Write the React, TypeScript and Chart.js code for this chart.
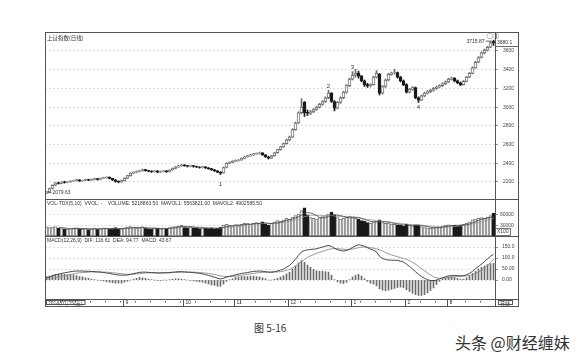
import React, { useEffect, useRef } from 'react';
import { Chart, registerables } from 'chart.js';

Chart.register(...registerables);

const FONT = '"Liberation Sans", Arial, sans-serif';
const CJK = '"Noto Sans CJK SC", sans-serif';

// [open, high, low, close]
const candles: number[][] = [
  [2080, 2100, 2075, 2093], [2093, 2135, 2090, 2130], [2130, 2170, 2125, 2165], [2165, 2195, 2160, 2190], [2192, 2198, 2178, 2185],
  [2185, 2205, 2180, 2200], [2202, 2208, 2188, 2195], [2195, 2206, 2190, 2200], [2200, 2215, 2196, 2210], [2210, 2220, 2204, 2215],
  [2215, 2228, 2210, 2222], [2224, 2226, 2205, 2212], [2212, 2222, 2206, 2218], [2218, 2230, 2214, 2225], [2226, 2229, 2214, 2220],
  [2220, 2233, 2216, 2228], [2228, 2240, 2222, 2235], [2236, 2238, 2220, 2226], [2226, 2244, 2222, 2240], [2240, 2252, 2236, 2246],
  [2246, 2256, 2240, 2250], [2252, 2254, 2232, 2238], [2238, 2240, 2216, 2222], [2222, 2226, 2198, 2205], [2206, 2212, 2190, 2200],
  [2200, 2220, 2196, 2215], [2215, 2245, 2212, 2240], [2240, 2272, 2236, 2268], [2268, 2300, 2262, 2295], [2295, 2310, 2288, 2305],
  [2305, 2318, 2298, 2312], [2312, 2326, 2306, 2320], [2320, 2338, 2315, 2330], [2332, 2336, 2316, 2322], [2322, 2326, 2308, 2315],
  [2316, 2320, 2302, 2310], [2310, 2325, 2306, 2318], [2318, 2320, 2298, 2305], [2305, 2318, 2300, 2312], [2312, 2326, 2308, 2320],
  [2320, 2323, 2302, 2310], [2310, 2333, 2306, 2328], [2328, 2350, 2324, 2345], [2345, 2366, 2340, 2360], [2360, 2378, 2355, 2372],
  [2372, 2388, 2366, 2380], [2382, 2386, 2368, 2374], [2374, 2378, 2360, 2368], [2368, 2380, 2362, 2375], [2376, 2378, 2358, 2365],
  [2365, 2370, 2352, 2360], [2360, 2364, 2348, 2355], [2355, 2368, 2350, 2362], [2362, 2365, 2344, 2350], [2350, 2354, 2336, 2342],
  [2342, 2346, 2324, 2330], [2330, 2334, 2312, 2318], [2318, 2322, 2298, 2305], [2305, 2310, 2280, 2295], [2298, 2360, 2294, 2355],
  [2355, 2405, 2350, 2400], [2400, 2416, 2394, 2410], [2410, 2428, 2404, 2422], [2422, 2436, 2416, 2430], [2430, 2440, 2422, 2435],
  [2435, 2458, 2430, 2452], [2452, 2476, 2448, 2470], [2470, 2486, 2464, 2480], [2480, 2496, 2474, 2490], [2490, 2506, 2484, 2500],
  [2500, 2512, 2494, 2505], [2505, 2520, 2498, 2510], [2512, 2515, 2484, 2490], [2490, 2494, 2462, 2470], [2470, 2474, 2445, 2455],
  [2455, 2485, 2450, 2480], [2480, 2518, 2476, 2512], [2512, 2550, 2508, 2545], [2545, 2582, 2540, 2575], [2575, 2616, 2570, 2610],
  [2610, 2658, 2604, 2650], [2650, 2690, 2640, 2680], [2680, 2770, 2676, 2760], [2760, 2840, 2752, 2830], [2830, 2950, 2825, 2940],
  [2940, 3090, 2930, 3000], [3050, 3060, 2900, 2940], [2945, 2970, 2910, 2935], [2935, 2965, 2920, 2950], [2950, 2985, 2940, 2975],
  [2975, 3010, 2965, 3000], [3000, 3040, 2990, 3030], [3030, 3070, 3020, 3060], [3060, 3110, 3050, 3100], [3100, 3180, 3090, 3150],
  [3150, 3155, 3050, 3060], [3060, 3070, 2960, 2990], [2990, 3060, 2980, 3050], [3050, 3110, 3040, 3100], [3100, 3170, 3090, 3160],
  [3160, 3240, 3150, 3230], [3230, 3310, 3220, 3300], [3300, 3380, 3290, 3340], [3340, 3405, 3320, 3360], [3365, 3385, 3310, 3330],
  [3330, 3340, 3270, 3280], [3280, 3290, 3220, 3240], [3240, 3255, 3210, 3230], [3230, 3250, 3215, 3240], [3240, 3330, 3235, 3320],
  [3320, 3390, 3310, 3360], [3350, 3360, 3130, 3150], [3150, 3230, 3140, 3220], [3220, 3300, 3210, 3290], [3290, 3360, 3280, 3350],
  [3350, 3375, 3340, 3365], [3365, 3406, 3355, 3370], [3370, 3375, 3310, 3320], [3320, 3330, 3270, 3280], [3280, 3290, 3230, 3240],
  [3240, 3250, 3150, 3160], [3160, 3200, 3150, 3190], [3190, 3220, 3180, 3210], [3210, 3215, 3090, 3100], [3100, 3110, 3050, 3075],
  [3075, 3130, 3070, 3120], [3120, 3160, 3110, 3150], [3150, 3175, 3140, 3165], [3165, 3190, 3155, 3180], [3180, 3210, 3170, 3200],
  [3200, 3225, 3190, 3215], [3215, 3240, 3205, 3230], [3230, 3260, 3220, 3250], [3250, 3280, 3240, 3270], [3270, 3310, 3262, 3300],
  [3300, 3320, 3290, 3310], [3310, 3315, 3270, 3280], [3280, 3290, 3250, 3260], [3260, 3268, 3230, 3240], [3240, 3285, 3235, 3275],
  [3275, 3330, 3270, 3320], [3320, 3370, 3315, 3360], [3360, 3430, 3355, 3420], [3420, 3490, 3415, 3480], [3480, 3540, 3475, 3530],
  [3530, 3590, 3525, 3580], [3580, 3620, 3570, 3610], [3610, 3650, 3600, 3640], [3640, 3700, 3635, 3690], [3700, 3716, 3660, 3690],
];

const volume: number[] = [
  26000, 24000, 25000, 27000, 22000, 21000, 20000, 19000, 21000, 22000,
  23000, 20000, 19000, 21000, 18000, 20000, 22000, 19000, 21000, 23000,
  22000, 20000, 21000, 24000, 19000, 20000, 23000, 25000, 27000, 24000,
  22000, 23000, 26000, 22000, 20000, 19000, 21000, 22000, 20000, 22000,
  21000, 24000, 26000, 27000, 28000, 30000, 26000, 24000, 25000, 23000,
  22000, 21000, 23000, 22000, 21000, 23000, 20000, 22000, 25000, 30000,
  33000, 31000, 29000, 32000, 30000, 34000, 36000, 35000, 33000, 36000,
  38000, 37000, 40000, 34000, 31000, 36000, 40000, 44000, 42000, 46000,
  50000, 48000, 54000, 58000, 62000, 72000, 80000, 60000, 52000, 50000,
  48000, 52000, 55000, 58000, 62000, 68000, 60000, 52000, 48000, 50000,
  54000, 56000, 52000, 50000, 47000, 44000, 42000, 38000, 36000, 40000,
  42000, 46000, 38000, 36000, 37000, 34000, 33000, 32000, 30000, 29000,
  33000, 30000, 28000, 32000, 30000, 26000, 24000, 23000, 22000, 23000,
  24000, 26000, 28000, 30000, 32000, 31000, 30000, 29000, 31000, 33000,
  36000, 40000, 46000, 48000, 50000, 52000, 50000, 54000, 58000, 64000,
];

const mavol1: (number | null)[] = [
  null, null, null, null, 24800, 23800, 23000, 21800, 20600, 20600,
  21000, 21000, 21000, 21000, 20200, 19600, 20000, 20000, 20000, 21000,
  21400, 21000, 21400, 22000, 21200, 20800, 21400, 22200, 22800, 23800,
  24200, 24200, 24400, 23400, 22600, 22000, 21600, 20800, 20400, 20800,
  21200, 21800, 22600, 24000, 25200, 27000, 27400, 27000, 26600, 25600,
  24000, 23000, 22800, 22200, 21800, 22000, 21800, 21800, 22200, 24000,
  26600, 28200, 29600, 31000, 31000, 31200, 32200, 33400, 33600, 34800,
  35600, 35800, 36800, 37000, 36000, 35600, 36200, 37000, 38600, 41600,
  44400, 46000, 48000, 51200, 54400, 58800, 65200, 66400, 65200, 62800,
  58000, 52400, 51400, 52600, 55000, 59000, 60600, 59000, 58000, 55600,
  52800, 52000, 52000, 52400, 51800, 49800, 47000, 44200, 41400, 40000,
  39600, 40400, 40400, 40400, 39800, 38200, 35600, 34400, 33200, 31600,
  31400, 30800, 30000, 30400, 30600, 29200, 28000, 27000, 25000, 23600,
  23600, 23600, 24600, 26200, 28000, 29400, 30200, 30400, 30600, 30800,
  31800, 33800, 37200, 40600, 44000, 47200, 49200, 50800, 52800, 55600,
];

const mavol2: (number | null)[] = [
  null, null, null, null, null, null, null, null, null, 22500,
  22200, 21800, 21200, 20600, 20200, 20100, 20400, 20300, 20300, 20500,
  20400, 20400, 20600, 21000, 20800, 20800, 21000, 21600, 22200, 22600,
  22700, 22800, 23300, 23100, 23000, 23000, 22800, 22600, 21900, 21700,
  21600, 21700, 22200, 22400, 22800, 23800, 24400, 24600, 25100, 25200,
  25300, 25000, 24700, 24200, 23600, 23000, 22400, 22300, 22500, 22900,
  24100, 25000, 25700, 26800, 27700, 28900, 30400, 31700, 32500, 33200,
  33700, 34300, 35500, 35700, 35400, 35700, 36500, 37400, 38300, 39300,
  40100, 41200, 43000, 45600, 47400, 50400, 55100, 56700, 58300, 58700,
  58500, 58800, 58300, 57700, 58100, 58500, 56500, 55700, 55400, 55400,
  55400, 55300, 55000, 54200, 52700, 50300, 48500, 47100, 45900, 44900,
  43700, 43000, 41600, 40200, 39200, 38200, 37300, 36700, 36300, 35000,
  34100, 32900, 31900, 31800, 31500, 30700, 29900, 29000, 28200, 27400,
  26500, 26100, 26100, 25900, 26100, 26600, 27200, 27800, 28700, 29700,
  30900, 32300, 34100, 35900, 37700, 39800, 41800, 44300, 47000, 50400,
];

const dif: number[] = [
  10, 14, 19, 24, 27, 30, 33, 35, 38, 40,
  41, 41, 41, 40, 40, 39, 38, 37, 36, 34,
  32, 30, 27, 25, 23, 22, 22, 23, 26, 29,
  32, 35, 36, 36, 35, 34, 33, 32, 32, 33,
  33, 34, 36, 37, 38, 38, 37, 36, 35, 34,
  32, 30, 28, 25, 21, 17, 13, 8, 5, 8,
  13, 17, 20, 24, 27, 30, 32, 34, 37, 39,
  40, 41, 40, 38, 36, 36, 38, 41, 45, 50,
  58, 66, 80, 95, 112, 128, 134, 137, 139, 140,
  142, 146, 150, 154, 157, 153, 144, 138, 134, 132,
  134, 140, 148, 155, 160, 158, 153, 147, 140, 136,
  128, 108, 98, 93, 91, 90, 90, 89, 86, 82,
  72, 62, 50, 38, 26, 16, 8, 2, -2, -3,
  0, 5, 10, 15, 19, 21, 21, 20, 19, 20,
  24, 30, 40, 52, 62, 72, 84, 96, 108, 117,
];

const dea: number[] = [
  2, 5, 8, 11, 14, 17, 20, 23, 26, 28,
  31, 33, 34, 35, 36, 37, 37, 37, 37, 36,
  36, 35, 33, 32, 30, 29, 27, 26, 26, 27,
  28, 29, 31, 32, 33, 33, 33, 33, 33, 33,
  33, 33, 34, 34, 35, 36, 36, 36, 36, 36,
  35, 34, 33, 32, 30, 28, 25, 22, 19, 17,
  16, 16, 17, 18, 20, 22, 24, 26, 28, 30,
  32, 34, 35, 35, 36, 36, 36, 37, 38, 40,
  44, 48, 55, 63, 73, 84, 94, 103, 110, 116,
  121, 126, 130, 135, 139, 142, 143, 142, 141, 140,
  139, 139, 141, 144, 147, 149, 150, 149, 147, 145,
  142, 137, 131, 125, 119, 114, 110, 106, 102, 98,
  94, 88, 80, 72, 62, 52, 42, 32, 23, 15,
  10, 8, 8, 9, 11, 13, 15, 16, 17, 18,
  19, 21, 24, 30, 37, 45, 55, 66, 80, 95,
];

const macdBars: number[] = [
  16, 18, 22, 26, 26, 26, 26, 24, 24, 24,
  20, 16, 14, 10, 8, 4, 2, 0, -2, -4,
  -8, -10, -12, -14, -14, -14, -10, -6, 0, 4,
  8, 12, 10, 8, 4, 2, 0, -2, -2, 0,
  0, 2, 4, 6, 6, 4, 2, 0, -2, -4,
  -6, -8, -10, -14, -18, -22, -24, -28, -28, -18,
  -6, 2, 6, 12, 14, 16, 16, 16, 18, 18,
  16, 14, 10, 6, 0, 0, 4, 8, 14, 20,
  28, 36, 50, 64, 78, 88, 80, 68, 58, 48,
  42, 40, 40, 38, 36, 22, 2, -8, -14, -16,
  -10, 2, 14, 22, 26, 18, 6, -6, -14, -18,
  -26, -40, -46, -48, -46, -42, -38, -34, -32, -34,
  -44, -52, -60, -66, -70, -70, -66, -58, -48, -36,
  -20, -6, 4, 10, 14, 16, 12, 8, 4, 4,
  10, 18, 30, 40, 50, 58, 64, 70, 74, 76,
];

const priceTicks = [2200, 2400, 2600, 2800, 3000, 3200, 3400, 3600];
const volTicks = [30000, 60000];
const macdTicks = [0, 50, 100, 150];
const monthIdx = [26, 46, 63, 81, 102, 120, 134];
const monthLabels = ['9', '10', '11', '12', '1', '2', '3'];
const waveIdx = [58, 94, 102, 124];
const wavePrice = [2178, 3226, 3429, 3001];
const waveLabels = ['1', '2', '3', '4'];

const priceTitle = '上证指数(日线)';
const volTitle = 'VOL-TDX(5,10)  VVOL: -    VOLUME: 5218863.50  MAVOL1: 5563821.00  MAVOL2: 4902585.50';
const macdTitle = 'MACD(12,26,9)  DIF: 116.61  DEA: 94.77  MACD: 43.67';
const startDate = '2014/07/25(五)';
const highLabel = '3715.87';
const lowLabel = '2079.63';
const axisTopLabel = '3680.1';
const markLabel = '○③';
const unitLabel = 'X100';
const periodLabel = '日线';

const labels = candles.map((_, i) => String(i));
const up = candles.map((c) => c[3] >= c[0]);

const AXIS_W = 23;

function yAxis(min: number, max: number, values: number[], fmt: (v: number) => string, pad: number) {
  return {
    type: 'linear',
    position: 'right',
    min,
    max,
    afterFit: (s: any) => {
      s.width = AXIS_W;
      s.paddingTop = 0;
      s.paddingBottom = 0;
    },
    afterBuildTicks: (s: any) => {
      s.ticks = values.map((v) => ({ value: v }));
    },
    ticks: {
      font: { size: 5, family: FONT },
      color: '#444',
      padding: pad,
      autoSkip: false,
      callback: (v: any) => fmt(Number(v)),
    },
    grid: { color: '#d2d2d2', lineWidth: 0.7, tickLength: 3, tickColor: '#777', tickWidth: 0.8 },
    border: { display: false, dash: [2, 2] },
  };
}

const hiddenX = { type: 'category', display: false, offset: true, grid: { display: false } };

const baseOptions = {
  animation: false,
  responsive: false,
  events: [],
  layout: { padding: 0 },
  plugins: { legend: { display: false }, tooltip: { enabled: false } },
};

const priceOverlay = {
  id: 'priceOverlay',
  afterDatasetsDraw(chart: any) {
    const { ctx, chartArea } = chart;
    const x = chart.scales.x;
    const y = chart.scales.y;
    ctx.save();
    ctx.fillStyle = '#333';
    ctx.textBaseline = 'top';
    ctx.textAlign = 'left';
    ctx.font = `5.5px ${CJK}`;
    ctx.fillText(priceTitle, 2, 3);

    ctx.font = `6px ${FONT}`;
    ctx.textAlign = 'center';
    ctx.textBaseline = 'middle';
    waveIdx.forEach((idx, k) => {
      ctx.fillText(waveLabels[k], x.getPixelForValue(idx), y.getPixelForValue(wavePrice[k]));
    });

    ctx.font = `5px ${FONT}`;
    ctx.strokeStyle = '#444';
    ctx.lineWidth = 0.8;
    const hi = candles.length - 1;
    const hx = x.getPixelForValue(hi);
    const hy = y.getPixelForValue(candles[hi][1]);
    ctx.textAlign = 'right';
    ctx.fillText(highLabel, hx - 9, hy + 1);
    ctx.beginPath();
    ctx.moveTo(hx - 8, hy + 1);
    ctx.lineTo(hx - 2, hy + 1);
    ctx.stroke();
    const lx = x.getPixelForValue(0);
    const ly = y.getPixelForValue(candles[0][2]);
    ctx.textAlign = 'left';
    ctx.beginPath();
    ctx.moveTo(lx + 1, ly - 1);
    ctx.lineTo(lx + 5, ly - 1);
    ctx.stroke();
    ctx.fillText(lowLabel, lx + 6, ly - 1);
    ctx.font = `6px ${CJK}`;
    ctx.fillText(markLabel, chartArea.right - 8, 4);
    ctx.font = `5px ${FONT}`;
    ctx.fillText(axisTopLabel, chartArea.right + 2, 11);
    ctx.beginPath();
    ctx.moveTo(chartArea.right, 14.5);
    ctx.lineTo(chart.width, 14.5);
    ctx.stroke();
    ctx.restore();
  },
};

const volOverlay = {
  id: 'volOverlay',
  afterDatasetsDraw(chart: any) {
    const { ctx, chartArea } = chart;
    ctx.save();
    ctx.fillStyle = '#333';
    ctx.textBaseline = 'top';
    ctx.textAlign = 'left';
    ctx.font = `5px ${FONT}`;
    ctx.fillText(volTitle, 2, 2);
    ctx.textBaseline = 'middle';
    ctx.fillText(unitLabel, chartArea.right + 2, chart.height - 4);
    ctx.strokeStyle = '#555';
    ctx.lineWidth = 0.8;
    ctx.strokeRect(chartArea.right + 0.5, chart.height - 7.5, 15, 7);
    ctx.restore();
  },
};

const macdOverlay = {
  id: 'macdOverlay',
  afterDatasetsDraw(chart: any) {
    const { ctx, chartArea } = chart;
    const x = chart.scales.x;
    const pitch = x.getPixelForValue(1) - x.getPixelForValue(0);
    ctx.save();
    ctx.fillStyle = '#333';
    ctx.textBaseline = 'top';
    ctx.textAlign = 'left';
    ctx.font = `5px ${FONT}`;
    ctx.fillText(macdTitle, 2, 2);

    const top = chartArea.bottom;
    const bottom = chart.height;
    const mid = (top + bottom) / 2;
    ctx.strokeStyle = '#555';
    ctx.lineWidth = 1;
    for (let i = 5; i < labels.length; i += 5) {
      const px = Math.round(x.getPixelForValue(i) - pitch / 2) + 0.5;
      ctx.beginPath();
      ctx.moveTo(px, top + 2);
      ctx.lineTo(px, top + 3.5);
      ctx.stroke();
    }
    ctx.textBaseline = 'middle';
    monthIdx.forEach((idx, k) => {
      const px = Math.round(x.getPixelForValue(idx) - pitch / 2) + 0.5;
      ctx.beginPath();
      ctx.moveTo(px, top);
      ctx.lineTo(px, bottom);
      ctx.stroke();
      ctx.fillText(monthLabels[k], px + 2, mid + 0.5);
    });
    ctx.font = `5px ${CJK}`;
    const w = ctx.measureText(startDate).width;
    ctx.fillText(startDate, 3, mid + 0.5);
    ctx.strokeRect(1.5, top + 1.5, w + 4, bottom - top - 3);
    ctx.fillText(periodLabel, chartArea.right + 5, mid + 0.5);
    ctx.strokeRect(chartArea.right + 3.5, top + 1.5, 14, bottom - top - 3);
    ctx.restore();
  },
};

function priceConfig(): any {
  return {
    type: 'bar',
    data: {
      labels,
      datasets: [
        {
          data: candles.map((c) => [c[0], c[3]]),
          backgroundColor: up.map((u) => (u ? '#ffffff' : '#1a1a1a')),
          borderColor: up.map((u) => (u ? '#6e6e6e' : '#1a1a1a')),
          borderWidth: 1,
          borderSkipped: false,
          barThickness: 3,
          grouped: false,
          order: 0,
        },
        {
          data: candles.map((c) => [c[2], c[1]]),
          backgroundColor: up.map((u) => (u ? '#6e6e6e' : '#1a1a1a')),
          borderWidth: 0,
          barThickness: 1,
          grouped: false,
          order: 1,
        },
      ],
    },
    options: {
      ...baseOptions,
      scales: {
        x: hiddenX,
        y: yAxis(2018, 3803, priceTicks, (v) => String(v), 5),
      },
    },
    plugins: [priceOverlay],
  };
}

function volConfig(): any {
  return {
    type: 'bar',
    data: {
      labels,
      datasets: [
        { type: 'line', data: mavol1, borderColor: '#444', borderWidth: 0.8, pointRadius: 0, order: 0 },
        { type: 'line', data: mavol2, borderColor: '#999', borderWidth: 0.8, pointRadius: 0, order: 1 },
        {
          type: 'bar',
          data: volume,
          backgroundColor: up.map((u) => (u ? '#f2f2f2' : '#1a1a1a')),
          borderColor: up.map((u) => (u ? '#7a7a7a' : '#1a1a1a')),
          borderWidth: 1,
          borderSkipped: false,
          barThickness: 3,
          order: 2,
        },
      ],
    },
    options: {
      ...baseOptions,
      scales: {
        x: hiddenX,
        y: yAxis(0, 105000, volTicks, (v) => String(v), 2),
      },
    },
    plugins: [volOverlay],
  };
}

function macdConfig(): any {
  return {
    type: 'bar',
    data: {
      labels,
      datasets: [
        { type: 'line', data: dif, borderColor: '#333', borderWidth: 0.9, pointRadius: 0, order: 0 },
        { type: 'line', data: dea, borderColor: '#8a8a8a', borderWidth: 0.9, pointRadius: 0, order: 1 },
        {
          type: 'bar',
          data: macdBars,
          backgroundColor: '#6a6a6a',
          borderWidth: 0,
          barThickness: 1,
          order: 2,
        },
      ],
    },
    options: {
      ...baseOptions,
      layout: { padding: { bottom: 7 } },
      scales: {
        x: hiddenX,
        y: yAxis(-86, 200, macdTicks, (v) => (v === 0 ? '0.00' : v < 100 ? v.toFixed(2) : v.toFixed(1)), 4),
      },
    },
    plugins: [macdOverlay],
  };
}

const line = (style: React.CSSProperties): React.CSSProperties => ({
  position: 'absolute',
  background: '#555',
  ...style,
});

export default function App() {
  const pRef = useRef<HTMLCanvasElement>(null);
  const vRef = useRef<HTMLCanvasElement>(null);
  const mRef = useRef<HTMLCanvasElement>(null);

  useEffect(() => {
    const charts = [
      new Chart(pRef.current as HTMLCanvasElement, priceConfig()),
      new Chart(vRef.current as HTMLCanvasElement, volConfig()),
      new Chart(mRef.current as HTMLCanvasElement, macdConfig()),
    ];
    return () => charts.forEach((c) => c.destroy());
  }, []);

  return (
    <div style={{ position: 'absolute', left: 0, top: 0, width: 579, height: 357, background: '#fff', overflow: 'hidden' }}>
      <canvas ref={pRef} width={473} height={167} style={{ position: 'absolute', left: 45, top: 32 }} />
      <canvas ref={vRef} width={473} height={37} style={{ position: 'absolute', left: 45, top: 199 }} />
      <canvas ref={mRef} width={473} height={70} style={{ position: 'absolute', left: 45, top: 236 }} />
      <div
        style={{
          position: 'absolute',
          left: 45,
          top: 32,
          width: 474,
          height: 275,
          border: '1px solid #555',
          boxSizing: 'border-box',
        }}
      />
      <div style={line({ left: 45, top: 199, width: 474, height: 1 })} />
      <div style={line({ left: 45, top: 236, width: 474, height: 1 })} />
      <div style={line({ left: 45, top: 299, width: 474, height: 1 })} />
      <div style={line({ left: 495, top: 32, width: 1, height: 275 })} />
      <div
        style={{
          position: 'absolute',
          left: 254,
          top: 321,
          fontFamily: CJK,
          fontSize: 10,
          lineHeight: '14px',
          color: '#333',
          whiteSpace: 'nowrap',
        }}
      >
        图 5-16
      </div>
      <div
        style={{
          position: 'absolute',
          left: 455,
          top: 332,
          fontFamily: CJK,
          fontSize: 16,
          lineHeight: '21px',
          color: '#333',
          whiteSpace: 'nowrap',
        }}
      >
        头条 @财经缠妹
      </div>
    </div>
  );
}
